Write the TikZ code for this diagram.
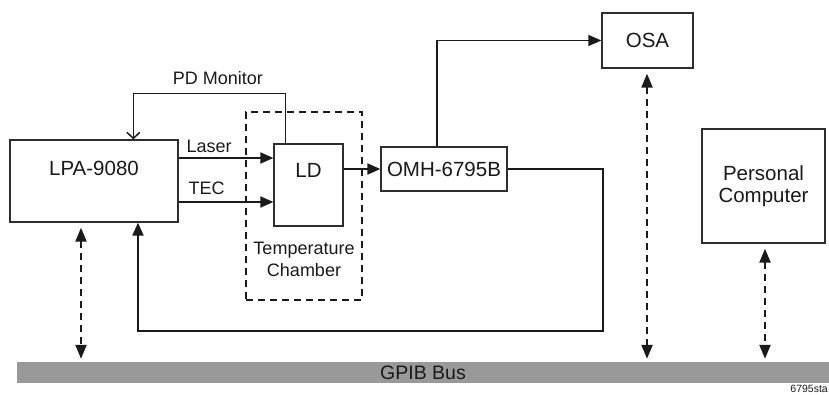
\documentclass[tikz,border=0pt]{standalone}
\usepackage{fontspec}
\setmainfont{Liberation Sans}
\usepackage{tikz}
\usepackage{xcolor}
\usetikzlibrary{arrows.meta,positioning,calc}
\definecolor{ink}{HTML}{1A1A1A}
\definecolor{boxgray}{HTML}{2E2E2E}
\definecolor{busgray}{HTML}{999999}
\tikzset{
  unitbox/.style={draw=boxgray,fill=white,line width=1.3pt,
                  inner sep=2pt,align=center,text=ink,
                  font=\fontsize{20.5}{21.5}\selectfont},
  chamberbox/.style={draw=ink,line width=2pt,dash pattern=on 7pt off 5pt,
                     inner sep=0pt},
  flowarr/.style={-{Triangle[length=13pt,width=11pt]},line width=2pt,color=ink},
  thinarr/.style={-{Triangle[length=13pt,width=11pt]},line width=1.5pt,color=ink},
  monarr/.style={-{Straight Barb[length=6pt,width=13pt]},line width=1.5pt,color=ink},
  busarr/.style={{Triangle[length=14pt,width=11pt]}-{Triangle[length=14pt,width=11pt]},
                 line width=2.2pt,color=ink,dash pattern=on 7pt off 5pt,
                 shorten <=5pt,shorten >=3pt},
  lbl/.style={font=\fontsize{18}{22}\selectfont,inner sep=1pt,text=ink,align=center}
}

\begin{document}
\begin{tikzpicture}[x=1pt,y=-1pt]
  \useasboundingbox (0,0) rectangle (829,394);

  % temperature chamber round the laser diode
  \node[chamberbox,minimum width=116pt,minimum height=188pt] (chamber) at (304,206) {};
  \node[lbl] (chamberlbl) at (304,259) {Temperature\\Chamber};

  \node[unitbox,minimum width=168pt,minimum height=82pt,
        text height=15pt,text depth=26pt] (lpa) at (94,181) {LPA-9080};
  \node[unitbox,minimum width=69pt,minimum height=82pt,
        text height=15pt,text depth=30pt] (ld) at (308.5,185) {LD};
  \node[unitbox,minimum width=126pt,minimum height=44pt] (omh) at (444,169) {OMH-6795B};
  \node[unitbox,minimum width=91pt,minimum height=55pt] (osa) at (647.5,40.5) {OSA};
  \node[unitbox,minimum width=123pt,minimum height=114pt] (pc) at (763.5,186) {Personal\\Computer};

  \node[fill=busgray,minimum width=812pt,minimum height=21pt,inner sep=0pt,
        font=\fontsize{19.5}{22}\selectfont,text=ink] (bus) at (423,372.5) {GPIB Bus};
  \node[anchor=east,inner sep=0pt,font=\fontsize{10.5}{12}\selectfont,text=ink]
        (tag) at (828,389) {6795sta};

  % signal paths
  \draw[monarr] ([xshift=12pt]ld.north west)
        |- ([xshift=124pt,yshift=46pt]lpa.north west)
        -- ([xshift=124pt]lpa.north west);
  \node[lbl] (pdlbl) at (218,78) {PD Monitor};

  \draw[flowarr] ([yshift=23pt]lpa.east)
        -- node[lbl,pos=0,anchor=south west,xshift=6pt,yshift=3pt] (laserlbl) {Laser}
        ([yshift=23pt]lpa.east -| ld.west);
  \draw[flowarr] ([yshift=-21pt]lpa.east)
        -- node[lbl,pos=0,anchor=south west,xshift=8pt,yshift=5pt] (teclbl) {TEC}
        ([yshift=-21pt]lpa.east -| ld.west);

  \draw[flowarr] (ld.east |- omh.west) -- (omh.west);
  \draw[thinarr] ([xshift=-7pt]omh.north) |- (osa.west);

  \coordinate (fbk) at (603,331);
  \draw[flowarr] (omh.east) -| (fbk) -| ([xshift=44pt]lpa.south);

  % bus links
  \draw[busarr] ([xshift=-13pt]lpa.south) -- ([xshift=-13pt]lpa.south |- bus.north);
  \draw[busarr] ([xshift=-0.5pt]osa.south) -- ([xshift=-0.5pt]osa.south |- bus.north);
  \draw[busarr] ([xshift=1.5pt]pc.south) -- ([xshift=1.5pt]pc.south |- bus.north);
\end{tikzpicture}
\end{document}
